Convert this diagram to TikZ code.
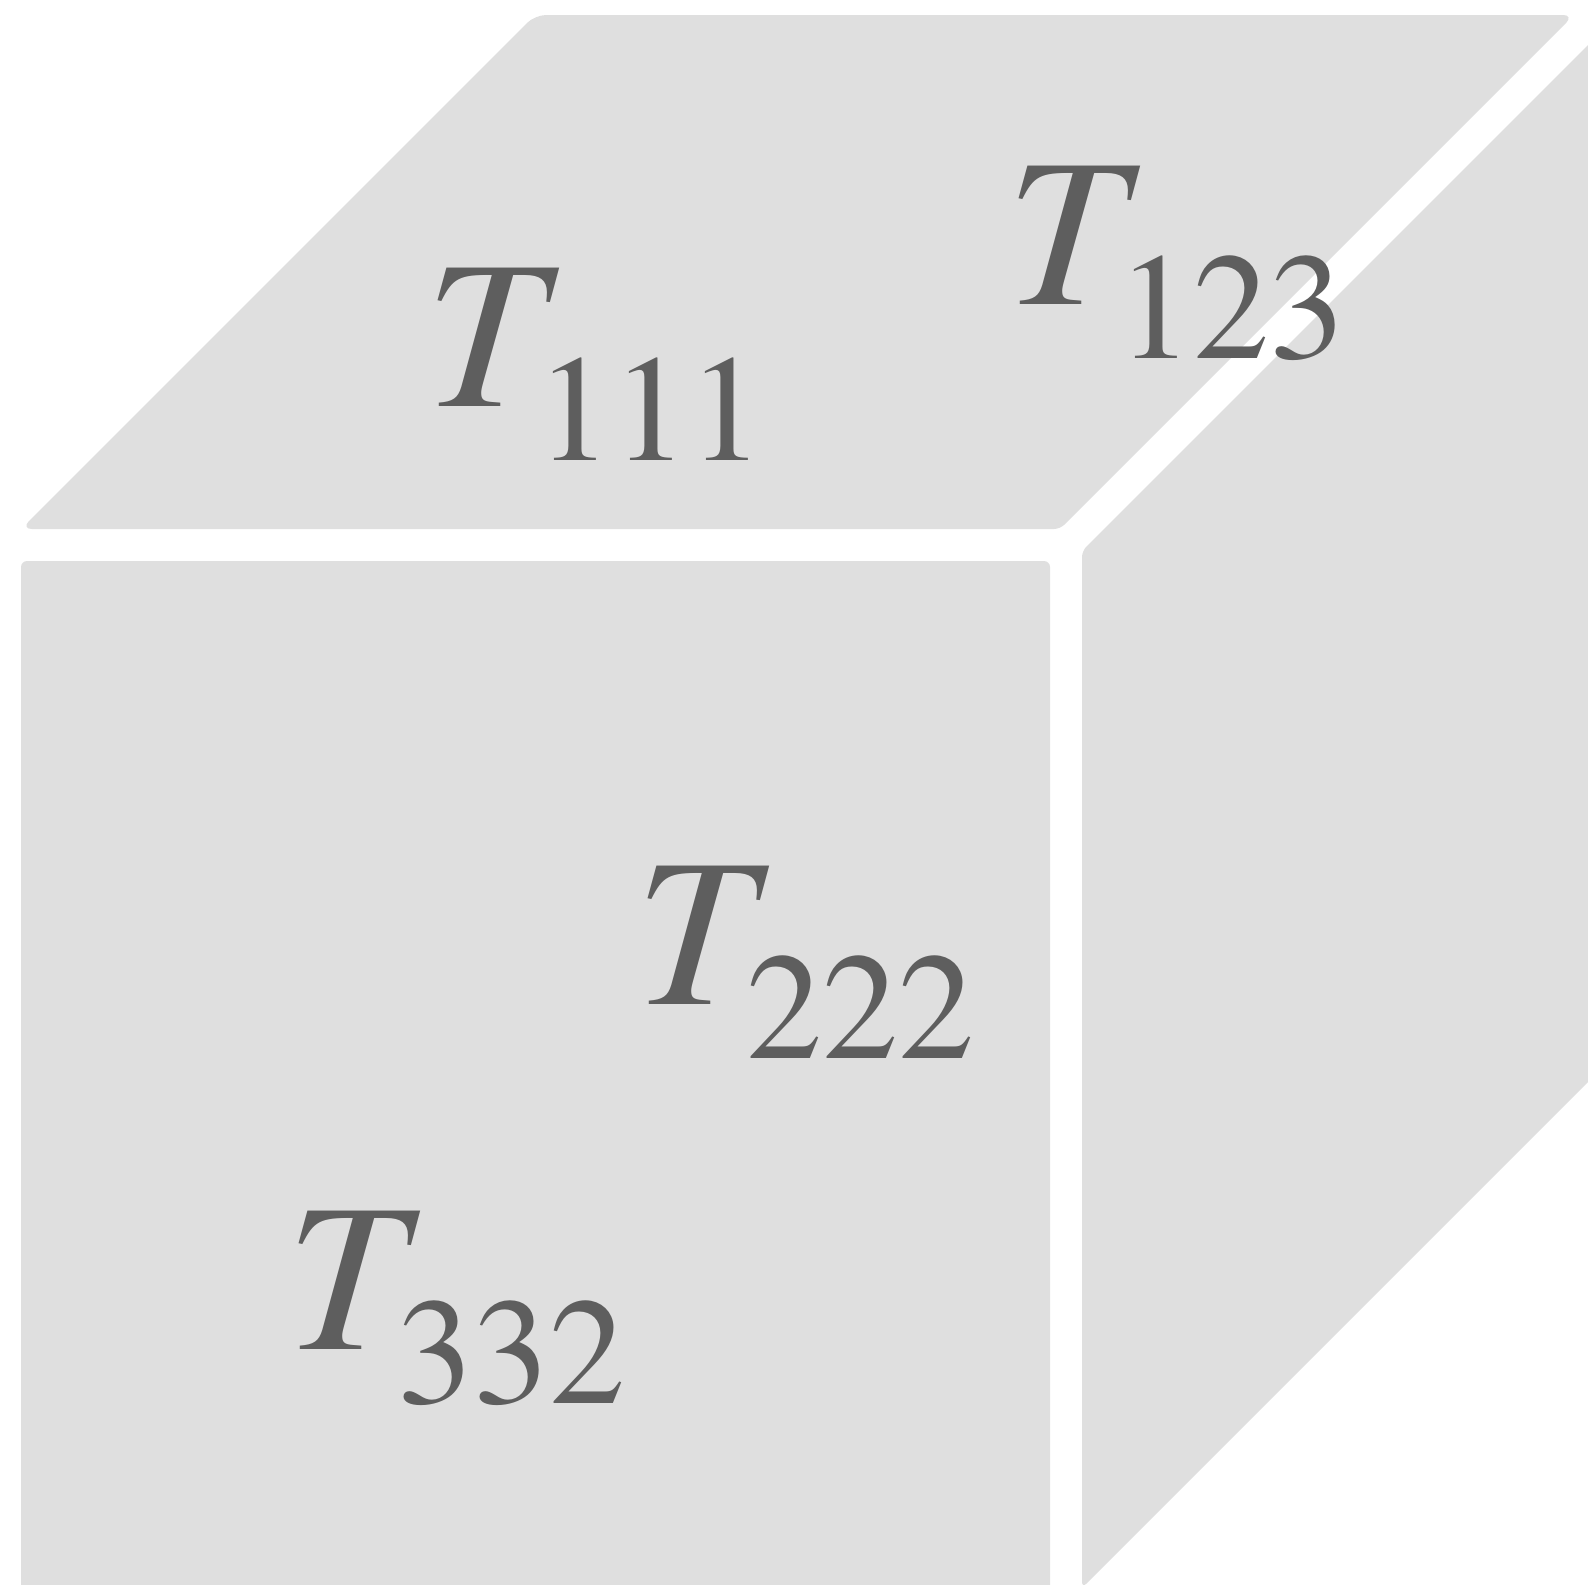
\documentclass[tikz,border=0pt]{standalone}
\usepackage{fontspec}
\setmainfont{TeX Gyre Termes}
\usepackage{tikz}

\newcommand{\tensorentry}[1]{\textit{T}\kern-23.5pt\raisebox{-54pt}{\fontsize{152}{170}\selectfont #1}}

\begin{document}
\begin{tikzpicture}[
    x=1pt, y=-1pt,
    face/.style={fill=gray!25!white, draw=none},
    entry/.style={anchor=base west, inner sep=0pt, text=black!63, font=\fontsize{212}{250}\selectfont},
  ]
    \useasboundingbox (0,0) rectangle (1588,1585);
    \clip (0,0) rectangle (1588,1585);

    % front
    \fill[face, rounded corners=6pt] (21,1640) -- (21,561) -- (1050,561) -- (1050,1640) -- cycle;
    % top
    \fill[face, rounded corners=11pt] (21,529) -- (535,15) -- (1574,15) [rounded corners=6pt] -- (1060,529) [rounded corners=11pt] -- cycle;
    % side
    \fill[face, rounded corners=6pt] (1082,1588) -- (1082,551) -- (1700,-67) -- (1700,970) -- cycle;

    \node[entry] (t111) at (425.5,406) {\tensorentry{111}};
    \node[entry] (t123) at (1006.5,304) {\tensorentry{123}};
    \node[entry] (t222) at (635.5,1004) {\tensorentry{222}};
    \node[entry] (t332) at (286.5,1349) {\tensorentry{332}};
\end{tikzpicture}
\end{document}
